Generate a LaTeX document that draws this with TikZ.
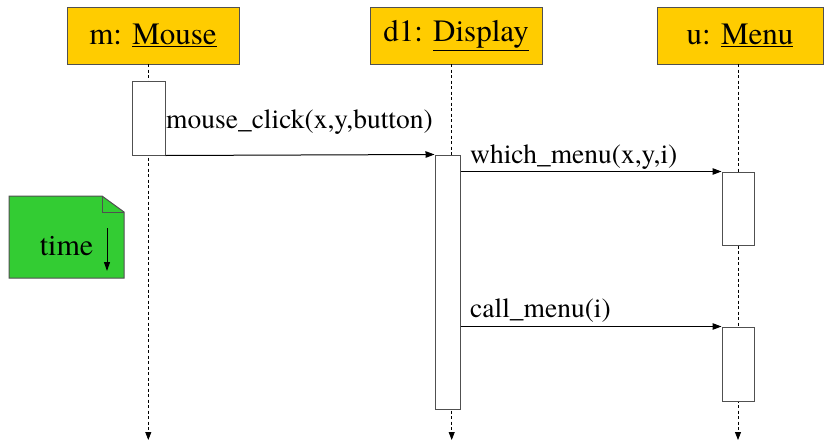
\documentclass[tikz,border=0pt]{standalone}
\usepackage{fontspec}
\setmainfont{TeX Gyre Termes}
\usetikzlibrary{arrows.meta}
\definecolor{hdrfill}{HTML}{FFCC00}
\definecolor{notefill}{HTML}{33CC33}
\definecolor{edgegray}{HTML}{505050}
\tikzset{
  hdr/.style={draw=edgegray, line width=1pt, fill=hdrfill, minimum width=172pt, minimum height=57pt, inner sep=0pt, font=\fontsize{31}{31}\selectfont},
  act/.style={draw=edgegray, line width=1pt, fill=white, inner sep=0pt},
  life/.style={draw=black, line width=0.8pt, dash pattern=on 3pt off 2.5pt, -{Triangle[length=8pt,width=6pt]}},
  msg/.style={draw=black, line width=1pt, -{Triangle[length=9pt,width=6.5pt]}},
  lbl/.style={anchor=base west, inner sep=0pt, font=\fontsize{27.5}{27.5}\selectfont},
}
\begin{document}
\begin{tikzpicture}[x=1pt,y=-1pt]
\path[fill=white] (0,0) rectangle (824,442);
\useasboundingbox (0,0) rectangle (824,442);
% headers
\node[hdr] (hm) at (153,35.5) {m: \underline{Mouse}};
\node[hdr] (hd) at (456,35.5) {d1: \underline{Display}};
\node[hdr, minimum width=166pt] (hu) at (740,35.5) {u: \underline{Menu}};
% lifelines
\coordinate (mtop) at (148.3,64);
\coordinate (mbot) at (148.3,440);
\coordinate (dtop) at (451.7,64);
\coordinate (dbot) at (451.7,440);
\coordinate (utop) at (738,64);
\coordinate (ubot) at (738,440);
\draw[life] (mtop) -- (mbot);
\draw[life] (dtop) -- (dbot);
\draw[life] (utop) -- (ubot);
% activations
\node[act, minimum width=33pt, minimum height=74pt] (ma) at (148.5,118) {};
\node[act, minimum width=25pt, minimum height=254pt] (da) at (447.5,282) {};
\node[act, minimum width=32pt, minimum height=73pt] (ua1) at (738,208.5) {};
\node[act, minimum width=32pt, minimum height=74pt] (ua2) at (738,364) {};
% messages
\draw[msg] (ma.south east) -- (da.north west);
\draw[msg] (da.east |- ua1.north) -- (ua1.north west);
\draw[msg] (da.east |- ua2.north) -- (ua2.north west);
\node[lbl] (l1) at (166,128) {mouse\_click(x,y,button)};
\node[lbl] (l2) at (470,163) {which\_menu(x,y,i)};
\node[lbl] (l3) at (470,317) {call\_menu(i)};
% time note
\draw[draw=edgegray, line width=1pt, fill=notefill] (9,196) -- (102,196) -- (124,212) -- (124,278) -- (9,278) -- cycle;
\draw[draw=edgegray, line width=1pt] (102,196) -- (102,212) -- (124,212);
\node[inner sep=0pt, font=\fontsize{30}{30}\selectfont] (tm) at (66.5,246) {time};
\coordinate (ta) at (107,228);
\coordinate (tb) at (107,271);
\draw[line width=1pt, -{Triangle[length=9pt,width=6pt]}] (ta) -- (tb);
\end{tikzpicture}
\end{document}
